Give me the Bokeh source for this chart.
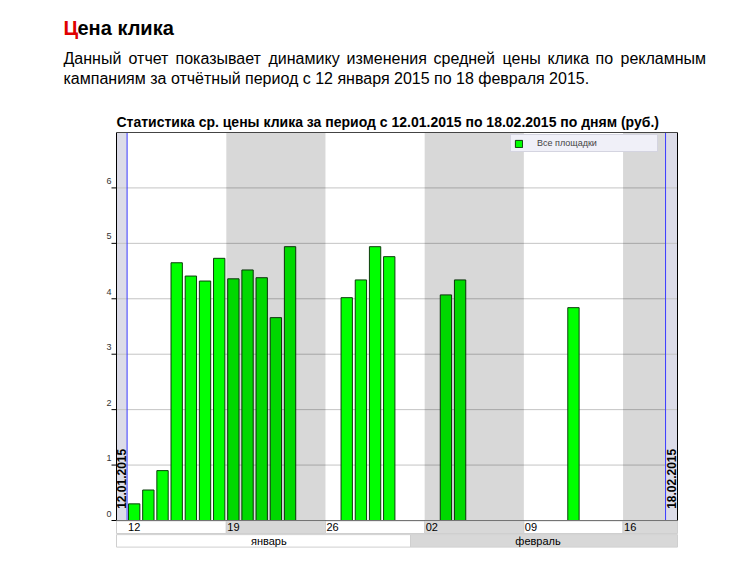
import pandas as pd
from bokeh.plotting import figure
from bokeh.models import (Range1d, Label, ColumnDataSource, Legend, LegendItem)
from bokeh.embed import file_html
from bokeh.resources import INLINE
from bokeh.core.properties import value

# ---------------- data ----------------
dates = ["2015-01-12", "2015-01-13", "2015-01-14", "2015-01-15", "2015-01-16",
         "2015-01-17", "2015-01-18", "2015-01-19", "2015-01-20", "2015-01-21",
         "2015-01-22", "2015-01-23", "2015-01-27", "2015-01-28", "2015-01-29",
         "2015-01-30", "2015-02-03", "2015-02-04", "2015-02-12"]
cpc = [0.30, 0.55, 0.90, 4.65, 4.41, 4.32, 4.73, 4.36, 4.52, 4.38,
       3.66, 4.94, 4.02, 4.34, 4.94, 4.76, 4.07, 4.34, 3.84]
series_name = "Все площадки"
period_start = "2015-01-12"
period_end = "2015-02-18"
week_starts = ["2015-01-12", "2015-01-19", "2015-01-26", "2015-02-02", "2015-02-09", "2015-02-16"]
week_labels = ["12", "19", "26", "02", "09", "16"]
month_starts = ["2015-01-01", "2015-02-01", "2015-03-01"]
month_labels = ["январь", "февраль"]
y_ticks = [0, 1, 2, 3, 4, 5, 6]

header = "Цена клика"
para_line1 = "Данный отчет показывает динамику изменения средней цены клика по рекламным"
para_line2 = "кампаниям за отчётный период с 12 января 2015 по 18 февраля 2015."

FONT = "Liberation Sans"
W, H = 737, 548

t0 = pd.Timestamp(period_start)
def d(s):
    return (pd.Timestamp(s) - t0).days

n_days = d(period_end) + 1
lbl_start = t0.strftime("%d.%m.%Y")
lbl_end = pd.Timestamp(period_end).strftime("%d.%m.%Y")
chart_title = f"Статистика ср. цены клика за период с {lbl_start} по {lbl_end} по дням (руб.)"

# ---------------- layout (pixel geometry -> ranges) ----------------
PX_DAY, X_ORG = 14.17, 126.6      # px per day, pixel of period start
PX_UNIT, Y_ORG = 55.43, 520.0     # px per rouble, pixel of zero line
px2x = lambda px: (px - X_ORG) / PX_DAY
px2y = lambda py: (Y_ORG - py) / PX_UNIT

XL, XR = px2x(116), px2x(677)     # chart box left/right
YT = px2y(132)                    # chart box top (=7)

p = figure(width=W, height=H, output_backend="svg", toolbar_location=None,
           x_range=Range1d(px2x(0), px2x(W)), y_range=Range1d(px2y(H), px2y(0)),
           x_axis_type=None, y_axis_type=None, title=None,
           min_border=0, min_border_left=0, min_border_right=0,
           min_border_top=0, min_border_bottom=0,
           outline_line_color=None, background_fill_color="white", border_fill_color="white")
p.xgrid.visible = False
p.ygrid.visible = False

# lavender edge strips
p.quad(left=[XL, n_days], right=[0, XR], bottom=[0, 0], top=[YT, YT],
       fill_color="#dcdce8", line_color=None)

# horizontal grid
p.segment(x0=[XL] * 6, x1=[XR] * 6, y0=y_ticks[1:], y1=y_ticks[1:],
          line_color="#c4c4c4", line_width=1)

# bars
src = ColumnDataSource(dict(x=[d(s) + 0.5 for s in dates], top=cpc))
bars = p.vbar(x="x", top="top", width=0.8, bottom=0, source=src,
              fill_color="#00ff00", line_color="#0d3d0d", line_width=1)

# alternating week shading (overlay)
wl, wr = [], []
for i, ws in enumerate(week_starts):
    if i % 2 == 1:
        wl.append(d(ws))
        wr.append(min(d(ws) + 7, n_days))
p.quad(left=wl, right=wr, bottom=0, top=YT, fill_color="black", fill_alpha=0.153, line_color=None)

# period boundary lines
p.segment(x0=[0, n_days], y0=[0, 0], x1=[0, n_days], y1=[YT, YT], line_color="#3a3aff", line_width=1)

# period labels (vertical)
p.text(x=[XL / 2, n_days + 0.42], y=[0.21, 0.21], text=[lbl_start, lbl_end], angle=1.5708,
       text_align="left", text_baseline="middle", text_font=value(FONT),
       text_font_style="bold", text_font_size="12px", text_color="black")

# chart box / axes
p.segment(x0=[XL, XR], x1=[XL, XR], y0=[0, 0], y1=[YT, YT], line_color="black", line_width=1)
p.segment(x0=[XL], x1=[XR], y0=[YT], y1=[YT], line_color="#444444", line_width=1)
p.segment(x0=[XL], x1=[XR], y0=[0], y1=[0], line_color="black", line_width=1)
# y ticks + labels
p.segment(x0=[XL - 5 / PX_DAY] * len(y_ticks), x1=[XL] * len(y_ticks), y0=y_ticks, y1=y_ticks,
          line_color="black", line_width=1)
p.text(x=[XL] * len(y_ticks), y=y_ticks, text=[str(v) for v in y_ticks],
       x_offset=-5, y_offset=-7, text_align="right", text_baseline="middle",
       text_font=value(FONT), text_font_size="9px", text_color="#333333")

# day row
day_bot, day_top = -0.235, -0.008
cl, cr, cc = [], [], []
for i, ws in enumerate(week_starts):
    left = XL if i == 0 else d(ws)
    right = XR if i == len(week_starts) - 1 else d(week_starts[i + 1])
    cl.append(left); cr.append(right)
    cc.append("#d8d8d8" if i % 2 == 1 else "white")
p.quad(left=cl, right=cr, bottom=day_bot, top=day_top, fill_color=cc, line_color="#cfcfcf")
p.text(x=[d(ws) for ws in week_starts], y=[(day_bot + day_top) / 2] * len(week_starts),
       text=week_labels, x_offset=1, text_align="left", text_baseline="middle",
       text_font=value(FONT), text_font_size="11px", text_color="black")

# month row
mon_bot, mon_top = -0.48, -0.255
ml = [XL, d(month_starts[1])]
mr = [d(month_starts[1]), XR]
p.quad(left=ml, right=mr, bottom=mon_bot, top=mon_top, fill_color=["white", "#d8d8d8"],
       line_color="#cfcfcf")
mx = [(max(d(a), 0) + min(d(b), n_days)) / 2 for a, b in zip(month_starts[:-1], month_starts[1:])]
p.text(x=mx, y=[(mon_bot + mon_top) / 2] * 2,
       text=month_labels, text_align="center", text_baseline="middle",
       text_font=value(FONT), text_font_size="11px", text_color="black")

# legend
legend = Legend(items=[LegendItem(label=series_name, renderers=[bars])],
                location=(510, H - 152), orientation="vertical",
                background_fill_color="#f0f0f8", background_fill_alpha=1,
                border_line_color="#b8b8c8", padding=3, margin=0, spacing=0,
                glyph_width=9, glyph_height=9, label_standoff=14,
                label_height=9, label_width=117,
                label_text_font=FONT, label_text_font_size="9px")
p.add_layout(legend)

# header texts (screen units, origin bottom-left of canvas; iy = visual centre)
def add_text(txt, ix, iy, size, style="normal", color="black"):
    p.add_layout(Label(x=ix, y=H - iy, x_units="screen", y_units="screen", text=txt,
                       text_align="left", text_baseline="middle",
                       text_font=FONT, text_font_size=size,
                       text_font_style=style, text_color=color))

add_text(header[0], 63, 27, "20px", "bold", "#e00000")
add_text(header[1:], 77, 27, "20px", "bold")
# justified first paragraph line: word start positions
word_x = [63, 128, 175, 268, 346, 433, 502, 547, 595, 620]
for wtxt, wx in zip(para_line1.split(" "), word_x):
    add_text(wtxt, wx, 58, "16px")
add_text(para_line2, 63, 78, "16px")
add_text(chart_title, 116, 121, "14px", "bold")

open("out.html", "w").write(file_html(p, INLINE))
